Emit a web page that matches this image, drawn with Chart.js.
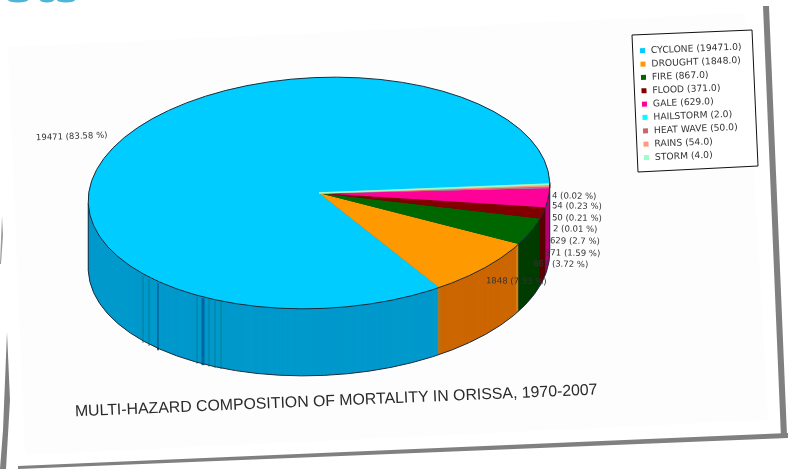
<!DOCTYPE html>
<html>
<head>
<meta charset="utf-8">
<title>Multi-hazard composition of mortality in Orissa</title>
<script src="https://cdn.jsdelivr.net/npm/chart.js@4"></script>
<style>
  html, body { margin: 0; padding: 0; background: #fff; }
  canvas { display: block; filter: blur(0.45px); }
</style>
</head>
<body>
<canvas id="chart" width="788" height="469"></canvas>
<script>
const categories = ['CYCLONE', 'DROUGHT', 'FIRE', 'FLOOD', 'GALE', 'HAILSTORM', 'HEAT WAVE', 'RAINS', 'STORM'];
const deaths = [19471, 1848, 867, 371, 629, 2, 50, 54, 4];
const topColors = ['#00ccff', '#ff9900', '#006600', '#800000', '#ff0099', '#00ffff', '#cc6666', '#ff9980', '#99ffcc'];
const wallColors = ['#0099cc', '#cc6600', '#003c00', '#5a0000', '#b30077', '#00bbbb', '#994c4c', '#bf7360', '#73bf99'];
// tiny slices get a thin border in their own colour, else they vanish at this size
const sliceBorders = [0, 0, 0, 0, 0, 2, 1.5, 2, 3];
const chartTitle = 'MULTI-HAZARD COMPOSITION OF MORTALITY IN ORISSA, 1970-2007';

// where the slice labels sit: x, y, tilt in degrees
const labelSpots = [
  [36, 138, -2], [486, 281, 1], [533, 264, 1], [545, 253, 1], [550, 241, 1],
  [553, 229, 1], [552, 218, 1], [552, 206, 1], [552, 196, 1]
];
// the odd dark streaks in the walls: x, colour, width
const streaks = [
  [143, '#007a96', 1], [149, '#007f92', 1], [158, '#0070a4', 2],
  [197, '#007a96', 1], [203, '#0066a0', 3], [209, '#007f92', 1], [215, '#007f92', 1], [221, '#00808c', 1],
  [439, '#a8782a', 2.5], [517, '#d98a1c', 1.5]
];

const PIE_X = 319, PIE_Y = 193, SQUASH = 0.5, TILT = -2.6 * Math.PI / 180, DEPTH = 67;
const total = deaths.reduce((a, b) => a + b, 0);

function polygon(ctx, pts, color) {
  ctx.fillStyle = color;
  ctx.beginPath();
  pts.forEach((p, i) => i ? ctx.lineTo(p[0], p[1]) : ctx.moveTo(p[0], p[1]));
  ctx.closePath();
  ctx.fill();
}

function pieTransform(ctx, arc, dy) {
  ctx.translate(PIE_X, PIE_Y + dy);
  ctx.rotate(TILT);
  ctx.scale(1, -SQUASH); // mirrored so the slices run anticlockwise
  ctx.translate(-arc.x, -arc.y);
}

function rimPoint(arc, x, dy) {
  const cos = (x - PIE_X) / arc.outerRadius;
  const y = Math.sqrt(1 - cos * cos) * arc.outerRadius * SQUASH;
  return [x, PIE_Y + dy + y + (x - PIE_X) * Math.tan(TILT)];
}

const tiltedPie = {
  id: 'tiltedPie',
  beforeDraw(chart) {
    const ctx = chart.ctx;
    // sheet and its shadow edges
    polygon(ctx, [[8, 47], [745, 13], [768, 420], [25, 455]], '#fdfdfd');
    polygon(ctx, [[763, 6], [769, 6], [787, 436], [781, 438]], '#808080');
    polygon(ctx, [[18, 466], [788, 433], [788, 438], [18, 469]], '#808080');
    polygon(ctx, [[7, 332], [10, 400], [6, 469], [0, 469], [3, 430]], '#808080');
    polygon(ctx, [[2, 216], [3, 235], [1, 264], [0, 264]], '#9a9a9a');
    ctx.fillStyle = '#4db5d5';
    [[18, 0, 10, 2.5], [47, 0, 7, 2.5], [66, 0, 9, 2.5]].forEach(s => {
      ctx.beginPath();
      ctx.ellipse(s[0], s[1], s[2], s[3], 0, 0, Math.PI * 2);
      ctx.fill();
    });
  },
  beforeDatasetsDraw(chart) {
    const ctx = chart.ctx;
    const arcs = chart.getDatasetMeta(0).data;
    const first = arcs[0];
    for (let d = DEPTH; d >= 1; d--) {
      arcs.forEach((arc, i) => {
        ctx.save();
        pieTransform(ctx, arc, d);
        ctx.fillStyle = wallColors[i];
        ctx.beginPath();
        ctx.moveTo(arc.x, arc.y);
        ctx.arc(arc.x, arc.y, arc.outerRadius, arc.startAngle, arc.endAngle);
        ctx.closePath();
        ctx.fill();
        ctx.restore();
      });
    }
    streaks.forEach(s => {
      const a = rimPoint(first, s[0], 0), b = rimPoint(first, s[0], DEPTH);
      ctx.strokeStyle = s[1];
      ctx.lineWidth = s[2];
      ctx.beginPath();
      ctx.moveTo(a[0], a[1]);
      ctx.lineTo(b[0], b[1]);
      ctx.stroke();
    });
    ctx.save();
    pieTransform(ctx, first, 0);
  },
  afterDatasetsDraw(chart) {
    const ctx = chart.ctx;
    const first = chart.getDatasetMeta(0).data[0];
    ctx.restore();
    // rims
    ctx.strokeStyle = '#1c2c3c';
    ctx.lineWidth = 1;
    [[0, 0, Math.PI * 2], [DEPTH, -Math.PI, 0]].forEach(r => {
      ctx.save();
      pieTransform(ctx, first, r[0]);
      ctx.beginPath();
      ctx.arc(first.x, first.y, first.outerRadius, r[1], r[2]);
      ctx.restore();
      ctx.stroke();
    });
    const edge = Math.cos(TILT) * first.outerRadius;
    [-edge, edge].forEach(dx => {
      const y = PIE_Y + dx * Math.tan(TILT);
      ctx.beginPath();
      ctx.moveTo(PIE_X + dx, y);
      ctx.lineTo(PIE_X + dx, y + DEPTH);
      ctx.stroke();
    });
    drawTexts(ctx);
  }
};

function tiltedText(ctx, text, x, y, deg, font, color) {
  ctx.save();
  ctx.translate(x, y);
  ctx.rotate(deg * Math.PI / 180);
  ctx.font = font;
  ctx.fillStyle = color;
  ctx.textBaseline = 'middle';
  ctx.textAlign = 'left';
  ctx.fillText(text, 0, 0);
  ctx.restore();
}

function drawTexts(ctx) {
  const smallFont = '8.5px "DejaVu Sans"';
  const legendFont = '9.2px "DejaVu Sans"';
  deaths.forEach((v, i) => {
    const pct = parseFloat((v / total * 100).toFixed(2));
    const s = labelSpots[i];
    tiltedText(ctx, v + ' (' + pct + ' %)', s[0], s[1], s[2], smallFont, '#333');
  });
  tiltedText(ctx, chartTitle, 75, 412, -2.4, '15.85px "Liberation Sans"', '#2a2a2a');

  // legend box
  polygon(ctx, [[632, 35], [752, 30], [758, 166], [638, 172]], '#fff');
  ctx.strokeStyle = '#111';
  ctx.lineWidth = 1;
  ctx.beginPath();
  ctx.moveTo(632, 35); ctx.lineTo(752, 30); ctx.lineTo(758, 166); ctx.lineTo(638, 172);
  ctx.closePath();
  ctx.stroke();
  categories.forEach((c, i) => {
    const x = 651 + i * 0.5, y = 50.7 + i * 13.35;
    tiltedText(ctx, c + ' (' + deaths[i].toFixed(1) + ')', x, y, -2.2, legendFont, '#333');
    ctx.save();
    ctx.translate(x - 8.5, y);
    ctx.rotate(-2.2 * Math.PI / 180);
    ctx.fillStyle = topColors[i];
    ctx.fillRect(-2.5, -2.5, 5, 5);
    ctx.restore();
  });
}

new Chart(document.getElementById('chart'), {
  type: 'pie',
  data: {
    labels: categories,
    datasets: [{
      data: deaths,
      backgroundColor: topColors,
      borderColor: topColors,
      borderWidth: sliceBorders,
      borderJoinStyle: 'miter',
      radius: 231,
      clip: false
    }]
  },
  options: {
    responsive: false,
    animation: false,
    rotation: 89.2,
    layout: { padding: 0 },
    plugins: { legend: { display: false }, tooltip: { enabled: false } }
  },
  plugins: [tiltedPie]
});
</script>
</body>
</html>
